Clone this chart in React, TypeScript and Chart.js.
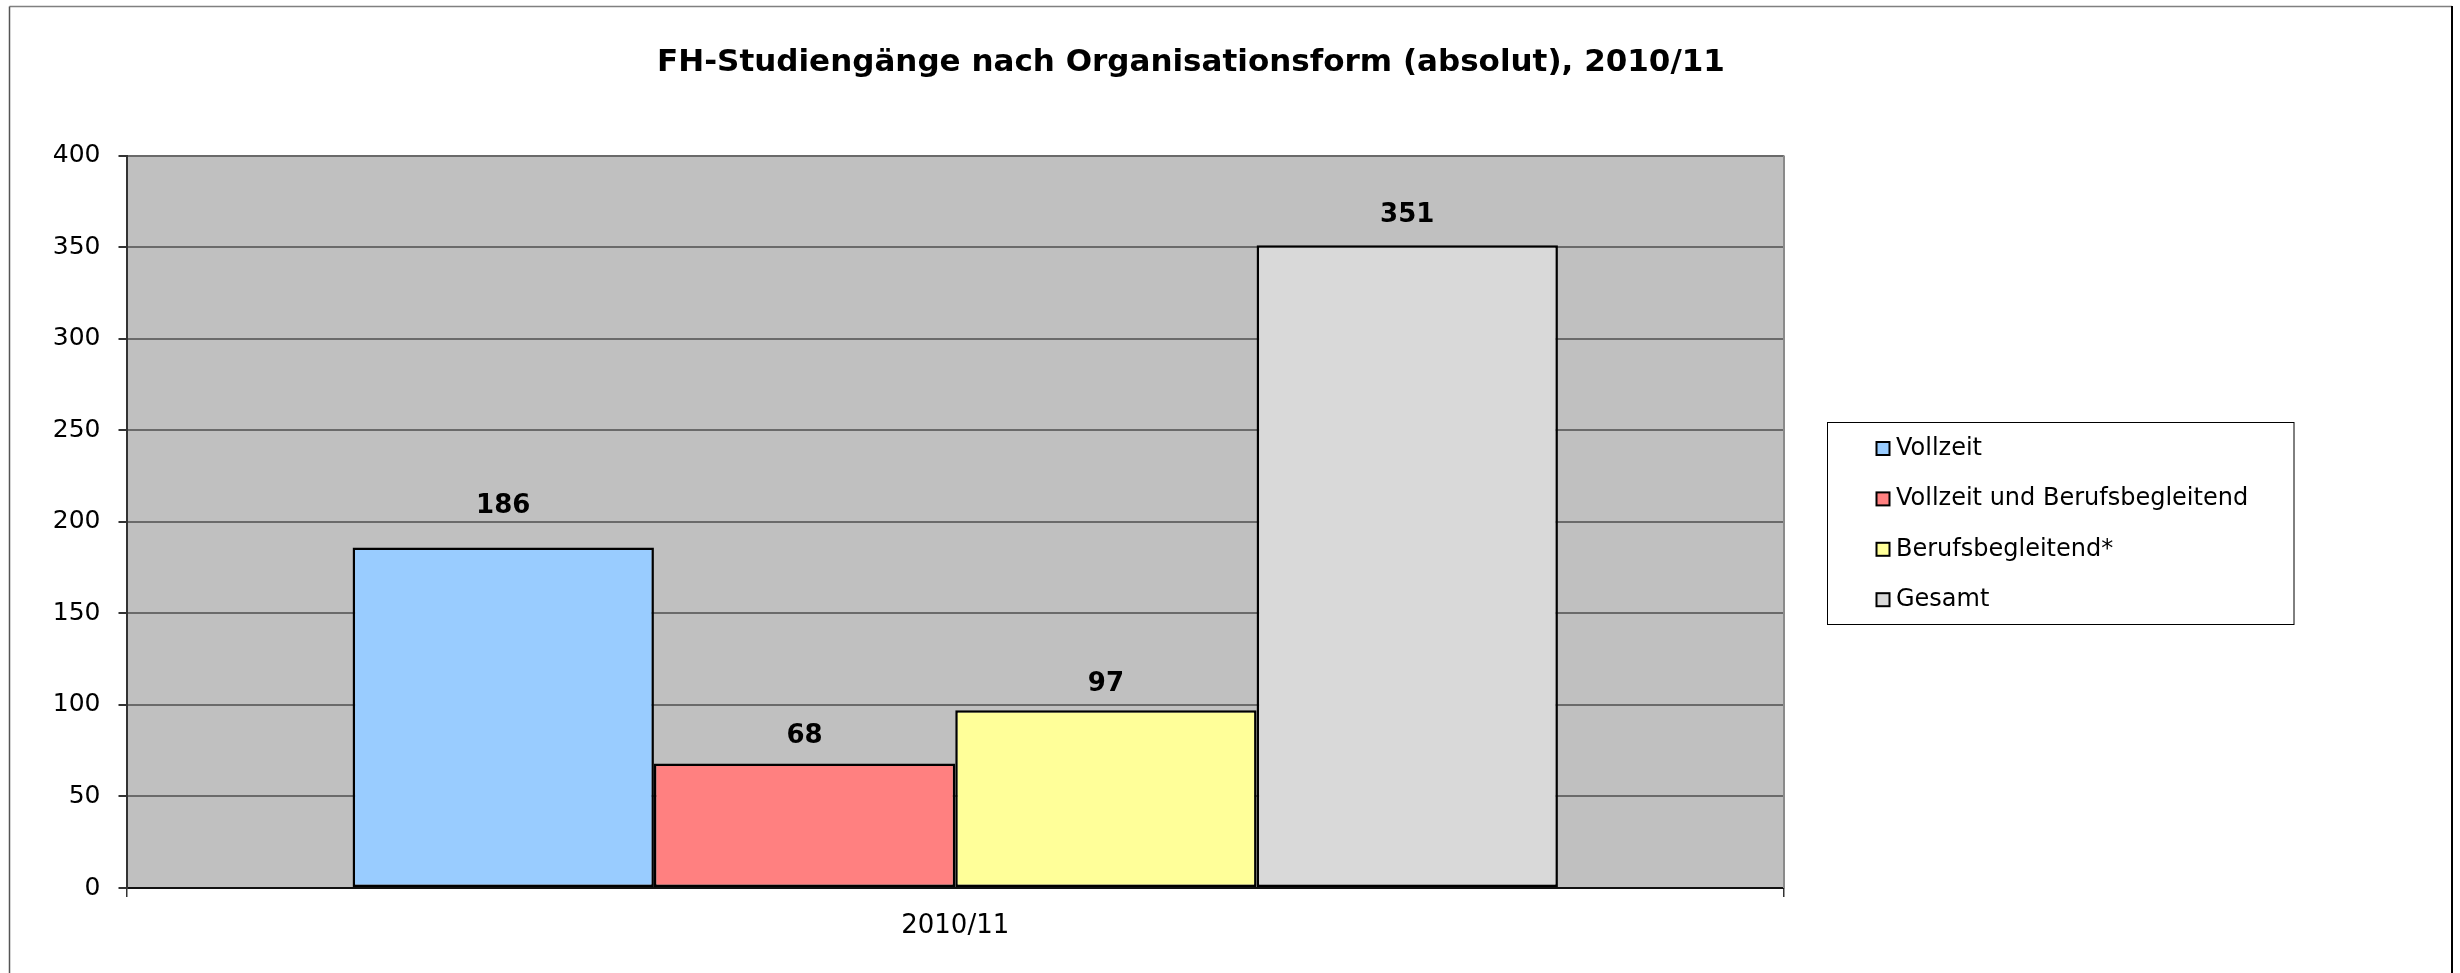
import React, { useEffect, useRef } from "react";
import { Chart, registerables } from "chart.js";

Chart.register(...registerables);

const chartTitle = "FH-Studiengänge nach Organisationsform (absolut), 2010/11";
const categories = ["2010/11"];
const seriesNames = ["Vollzeit", "Vollzeit und Berufsbegleitend", "Berufsbegleitend*", "Gesamt"];
const vollzeit = [186];
const vollzeitUndBerufsbegleitend = [68];
const berufsbegleitend = [97];
const gesamt = [351];
const yTicks = [0, 50, 100, 150, 200, 250, 300, 350, 400];
const seriesColors = ["#99CCFF", "#FF8080", "#FFFF99", "#D9D9D9"];

const FONT = '"DejaVu Sans", Verdana, sans-serif';

const decorPlugin = {
  id: "decor",
  beforeDraw(chart: any) {
    const { ctx, chartArea } = chart;
    ctx.save();
    ctx.fillStyle = "#ffffff";
    ctx.fillRect(0, 0, chart.width, chart.height);
    // outer frame
    ctx.lineWidth = 1.5;
    ctx.strokeStyle = "#808080";
    ctx.beginPath();
    ctx.moveTo(9.5, 6.5);
    ctx.lineTo(2452, 6.5);
    ctx.stroke();
    ctx.strokeStyle = "#555555";
    ctx.beginPath();
    ctx.moveTo(9.5, 6.5);
    ctx.lineTo(9.5, chart.height);
    ctx.stroke();
    ctx.lineWidth = 2;
    ctx.strokeStyle = "#000000";
    ctx.beginPath();
    ctx.moveTo(2452, 6);
    ctx.lineTo(2452, chart.height);
    ctx.stroke();
    // plot background
    ctx.fillStyle = "#C0C0C0";
    ctx.fillRect(chartArea.left, chartArea.top, chartArea.right - chartArea.left, chartArea.bottom - chartArea.top);
    ctx.restore();
  },
  afterDatasetsDraw(chart: any, _args: any, opts: any) {
    const { ctx, chartArea } = chart;
    ctx.save();
    // right border of plot
    ctx.strokeStyle = "#8a8a8a";
    ctx.lineWidth = 2;
    ctx.beginPath();
    ctx.moveTo(chartArea.right, chartArea.top);
    ctx.lineTo(chartArea.right, chartArea.bottom);
    ctx.stroke();
    // data labels
    ctx.font = `bold 26px ${FONT}`;
    ctx.fillStyle = "#000000";
    ctx.textAlign = "center";
    ctx.textBaseline = "middle";
    chart.data.datasets.forEach((ds: any, i: number) => {
      const meta = chart.getDatasetMeta(i);
      meta.data.forEach((el: any, j: number) => {
        const off = (opts.offsets && opts.offsets[i]) || 30;
        ctx.fillText(String(ds.data[j]), el.x, el.y - off);
      });
    });
    ctx.restore();
  },
  afterDraw(chart: any, _args: any, opts: any) {
    const { ctx } = chart;
    ctx.save();
    // title
    ctx.font = `bold 31px ${FONT}`;
    ctx.fillStyle = "#000000";
    ctx.textAlign = "center";
    ctx.textBaseline = "middle";
    ctx.fillText(opts.title, 1191, 63);
    // legend
    const lx = 1827.5, ly = 422.5, lw = 466.5, lh = 202;
    ctx.strokeStyle = "#000000";
    ctx.lineWidth = 1;
    ctx.strokeRect(lx, ly, lw, lh);
    ctx.font = `24px ${FONT}`;
    ctx.textAlign = "left";
    ctx.textBaseline = "middle";
    chart.data.datasets.forEach((ds: any, i: number) => {
      const cy = 448.5 + i * 50.4;
      ctx.fillStyle = ds.backgroundColor;
      ctx.fillRect(1876.5, cy - 6.5, 13, 13);
      ctx.lineWidth = 2;
      ctx.strokeStyle = "#000000";
      ctx.strokeRect(1876.5, cy - 6.5, 13, 13);
      ctx.fillStyle = "#000000";
      ctx.fillText(ds.label, 1896, cy);
    });
    ctx.restore();
  },
};

export default function App() {
  const ref = useRef<HTMLCanvasElement | null>(null);
  useEffect(() => {
    if (!ref.current) return;
    const seriesData = [vollzeit, vollzeitUndBerufsbegleitend, berufsbegleitend, gesamt];
    const chart = new Chart(ref.current, {
      type: "bar",
      data: {
        labels: categories,
        datasets: seriesNames.map((name, i) => ({
          label: name,
          data: seriesData[i],
          backgroundColor: seriesColors[i],
          borderColor: "#000000",
          borderWidth: 2.5,
          borderSkipped: false,
          barPercentage: 1,
          categoryPercentage: 0.7272,
        })),
      },
      options: {
        responsive: false,
        animation: false,
        devicePixelRatio: 1,
        layout: { padding: { top: 155.5, right: 676, left: 0, bottom: 0 } },
        plugins: {
          legend: { display: false },
          title: { display: false },
          tooltip: { enabled: false },
          decor: { title: chartTitle, offsets: [41, 27, 26, 30] },
        } as any,
        scales: {
          x: {
            grid: {
              offset: true,
              drawOnChartArea: false,
              drawTicks: true,
              tickLength: 9,
              tickColor: "#333333",
              lineWidth: 1.5,
            },
            border: { display: true, color: "#111111", width: 2 },
            ticks: { font: { family: FONT, size: 26 }, color: "#000000", padding: 14 },
            afterFit: (s: any) => { s.height = 85; },
          },
          y: {
            min: 0,
            max: 400,
            afterBuildTicks: (s: any) => { s.ticks = yTicks.map((v) => ({ value: v })); },
            grid: {
              color: "#6a6a6a",
              lineWidth: 2,
              drawTicks: true,
              tickLength: 8,
              tickColor: "#333333",
            },
            border: { display: true, color: "#333333", width: 2 },
            ticks: { font: { family: FONT, size: 25 }, color: "#000000", padding: 18 },
            afterFit: (s: any) => { s.width = 126.5; },
          },
        },
      },
      plugins: [decorPlugin],
    });
    return () => chart.destroy();
  }, []);
  return (
    <div style={{ position: "absolute", left: 0, top: 0, width: 2460, height: 973 }}>
      <canvas ref={ref} width={2460} height={973} style={{ display: "block" }} />
    </div>
  );
}
